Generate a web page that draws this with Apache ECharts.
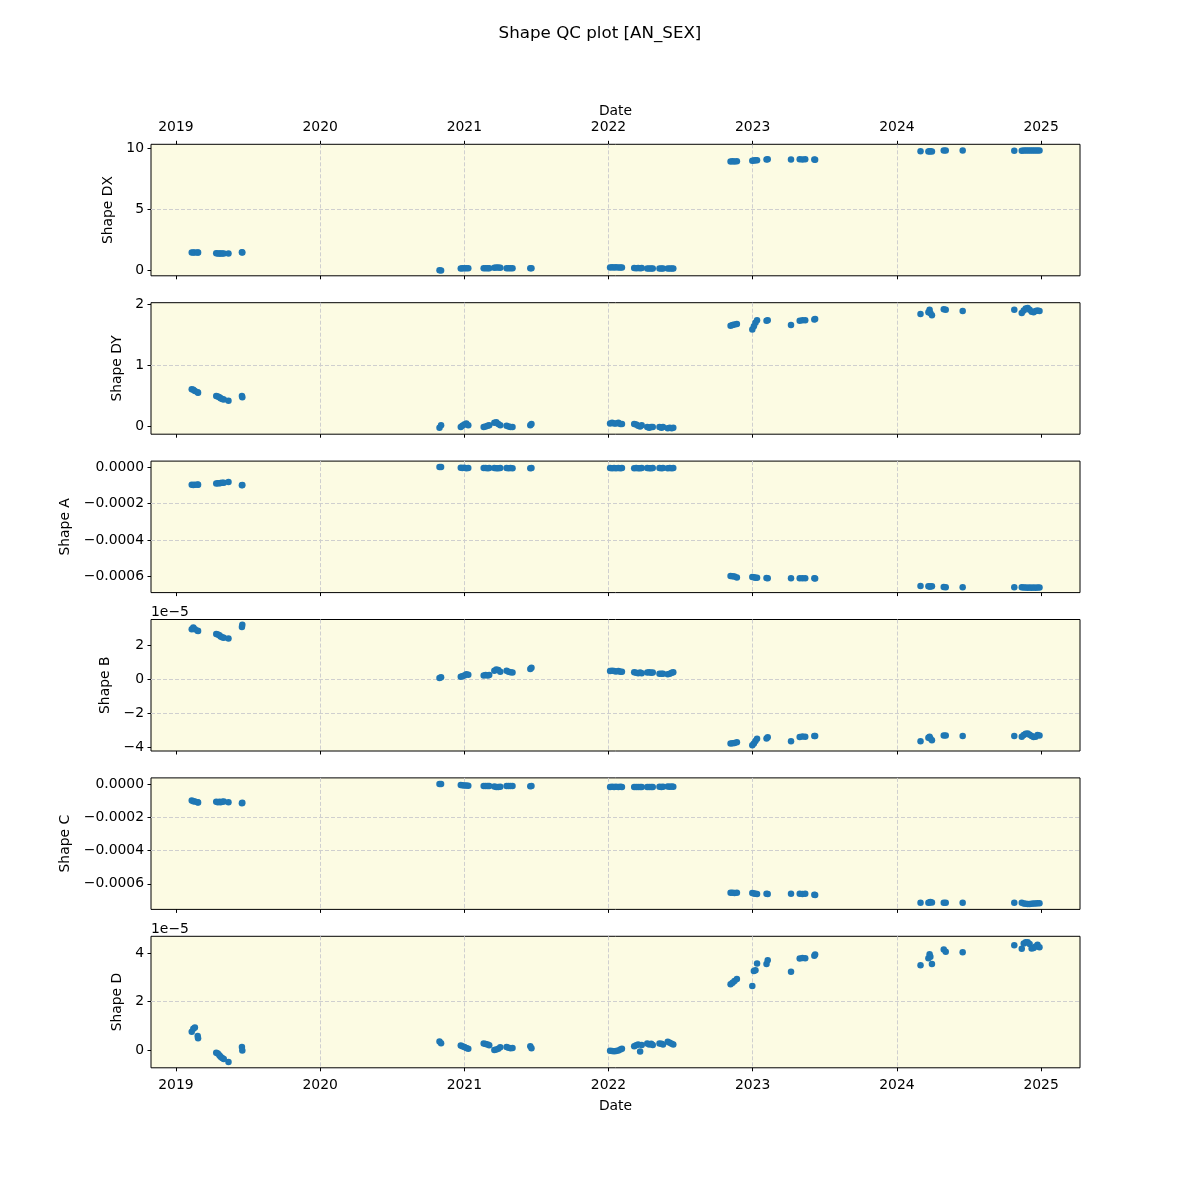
<!DOCTYPE html>
<html><head><meta charset="utf-8">
<script src="https://cdn.jsdelivr.net/npm/echarts@6/dist/echarts.min.js"></script>
<style>html,body{margin:0;padding:0;background:#fff}#c{width:1200px;height:1200px}</style>
</head><body><div id="c"></div>
<script>
// ---------------- data ----------------
const dates = [
 '2019-02-10','2019-02-14','2019-02-18','2019-02-25','2019-02-26','2019-04-13','2019-04-17','2019-04-21','2019-04-24','2019-04-28',
 '2019-05-02','2019-05-14','2019-06-17','2019-06-18','2020-10-30','2020-11-03','2020-12-23','2020-12-27','2021-01-01','2021-01-06',
 '2021-01-11','2021-02-19','2021-02-24','2021-03-01','2021-03-05','2021-03-18','2021-03-23','2021-03-28','2021-04-02','2021-04-18',
 '2021-04-23','2021-04-28','2021-05-03','2021-06-17','2021-06-20','2022-01-05','2022-01-10','2022-01-15','2022-01-20','2022-01-26',
 '2022-01-31','2022-02-04','2022-03-07','2022-03-12','2022-03-17','2022-03-22','2022-03-26','2022-04-09','2022-04-14','2022-04-19',
 '2022-04-23','2022-05-10','2022-05-15','2022-05-19','2022-05-31','2022-06-05','2022-06-10','2022-06-14','2022-11-06','2022-11-11',
 '2022-11-16','2022-11-22','2022-12-31','2023-01-04','2023-01-08','2023-01-12','2023-02-05','2023-02-08','2023-04-08','2023-04-30',
 '2023-05-07','2023-05-14','2023-06-06','2023-06-08','2024-03-01','2024-03-21','2024-03-24','2024-03-26','2024-03-30','2024-04-29',
 '2024-05-04','2024-06-16','2024-10-25','2024-11-13','2024-11-18','2024-11-23','2024-11-28','2024-12-03','2024-12-08','2024-12-13',
 '2024-12-18','2024-12-23','2024-12-28'
];
const shapeDX = [
 1.45,1.45,1.44,1.45,1.44,1.38,1.37,1.36,1.37,1.36,
 1.37,1.37,1.47,1.45,-0.02,-0.03,0.12,0.14,0.15,0.16,
 0.14,0.14,0.15,0.14,0.15,0.20,0.22,0.22,0.20,0.15,
 0.14,0.15,0.14,0.15,0.16,0.22,0.23,0.22,0.23,0.22,
 0.21,0.22,0.18,0.16,0.17,0.15,0.17,0.13,0.12,0.12,
 0.13,0.12,0.13,0.12,0.13,0.12,0.13,0.12,8.92,8.93,
 8.92,8.93,8.98,9.00,9.01,9.02,9.08,9.10,9.08,9.10,
 9.09,9.10,9.08,9.07,9.75,9.73,9.75,9.76,9.74,9.82,
 9.83,9.83,9.81,9.81,9.82,9.82,9.82,9.82,9.82,9.82,
 9.83,9.82,9.82
];
const shapeDY = [
 0.61,0.60,0.58,0.56,0.55,0.50,0.49,0.48,0.46,0.45,
 0.44,0.42,0.50,0.48,-0.02,0.02,-0.01,0.01,0.03,0.05,
 0.02,-0.01,0.00,0.01,0.02,0.06,0.07,0.04,0.02,0.01,
 0.00,-0.01,-0.01,0.02,0.04,0.05,0.06,0.05,0.05,0.06,
 0.04,0.04,0.04,0.03,0.01,0.00,0.02,-0.01,-0.02,-0.01,
 -0.01,-0.01,-0.02,-0.01,-0.03,-0.02,-0.03,-0.02,1.65,1.66,
 1.67,1.68,1.59,1.64,1.70,1.74,1.73,1.74,1.66,1.73,
 1.74,1.74,1.75,1.76,1.84,1.87,1.91,1.86,1.82,1.92,
 1.91,1.89,1.91,1.86,1.90,1.93,1.94,1.91,1.88,1.87,
 1.89,1.90,1.89
];
const shapeA = [
 -0.000097,-0.000098,-0.000096,-0.000095,-0.000097,-0.000090,-0.000089,-0.000088,-0.000087,-0.000086,
 -0.000086,-0.000082,-0.000100,-0.000098,0.000000,0.000001,-0.000004,-0.000005,-0.000004,-0.000006,
 -0.000005,-0.000005,-0.000005,-0.000006,-0.000005,-0.000005,-0.000006,-0.000006,-0.000005,-0.000005,
 -0.000006,-0.000005,-0.000006,-0.000006,-0.000005,-0.000005,-0.000006,-0.000005,-0.000006,-0.000005,
 -0.000006,-0.000005,-0.000006,-0.000005,-0.000006,-0.000006,-0.000005,-0.000005,-0.000006,-0.000006,
 -0.000005,-0.000005,-0.000006,-0.000005,-0.000006,-0.000005,-0.000006,-0.000005,-0.000597,-0.000598,
 -0.000600,-0.000605,-0.000602,-0.000604,-0.000606,-0.000607,-0.000608,-0.000609,-0.000610,-0.000609,
 -0.000610,-0.000609,-0.000610,-0.000611,-0.000652,-0.000653,-0.000655,-0.000654,-0.000653,-0.000657,
 -0.000658,-0.000658,-0.000658,-0.000658,-0.000660,-0.000660,-0.000661,-0.000660,-0.000661,-0.000660,
 -0.000661,-0.000660,-0.000660
];
// Shape B in units of 1e-5
const shapeB = [
 2.95,3.05,2.95,2.87,2.85,2.68,2.65,2.60,2.52,2.48,
 2.45,2.41,3.08,3.22,0.08,0.12,0.15,0.18,0.22,0.30,
 0.27,0.22,0.25,0.22,0.25,0.50,0.58,0.55,0.45,0.50,
 0.45,0.42,0.40,0.60,0.68,0.48,0.50,0.48,0.46,0.48,
 0.45,0.44,0.42,0.38,0.36,0.40,0.36,0.40,0.42,0.38,
 0.40,0.33,0.33,0.32,0.30,0.33,0.38,0.42,-3.80,-3.78,
 -3.76,-3.73,-3.90,-3.80,-3.65,-3.52,-3.50,-3.43,-3.67,-3.42,
 -3.39,-3.40,-3.35,-3.36,-3.67,-3.45,-3.40,-3.50,-3.60,-3.33,
 -3.32,-3.35,-3.35,-3.40,-3.30,-3.22,-3.20,-3.28,-3.35,-3.42,
 -3.40,-3.30,-3.33
];
const shapeC = [
 -0.000100,-0.000104,-0.000106,-0.000110,-0.000112,-0.000108,-0.000110,-0.000108,-0.000110,-0.000108,
 -0.000106,-0.000110,-0.000116,-0.000114,0.000000,-0.000001,-0.000006,-0.000008,-0.000009,-0.000010,
 -0.000011,-0.000012,-0.000013,-0.000012,-0.000013,-0.000016,-0.000018,-0.000019,-0.000017,-0.000012,
 -0.000013,-0.000012,-0.000013,-0.000014,-0.000013,-0.000018,-0.000017,-0.000018,-0.000017,-0.000018,
 -0.000017,-0.000018,-0.000019,-0.000018,-0.000019,-0.000018,-0.000019,-0.000019,-0.000018,-0.000019,
 -0.000018,-0.000017,-0.000018,-0.000017,-0.000016,-0.000017,-0.000016,-0.000017,-0.000654,-0.000654,
 -0.000655,-0.000654,-0.000656,-0.000658,-0.000660,-0.000662,-0.000660,-0.000661,-0.000660,-0.000660,
 -0.000661,-0.000660,-0.000666,-0.000667,-0.000714,-0.000714,-0.000712,-0.000710,-0.000712,-0.000714,
 -0.000714,-0.000714,-0.000714,-0.000714,-0.000718,-0.000720,-0.000722,-0.000721,-0.000720,-0.000719,
 -0.000718,-0.000717,-0.000717
];
// Shape D in units of 1e-5
const shapeD = [
 0.75,0.88,0.93,0.58,0.48,-0.12,-0.15,-0.22,-0.28,-0.33,
 -0.38,-0.50,0.12,-0.02,0.35,0.28,0.18,0.15,0.12,0.08,
 0.05,0.27,0.24,0.22,0.19,0.00,0.02,0.05,0.11,0.12,
 0.09,0.07,0.08,0.15,0.07,-0.03,-0.05,-0.06,-0.04,-0.02,
 0.02,0.05,0.15,0.19,0.22,-0.07,0.20,0.27,0.22,0.25,
 0.20,0.27,0.25,0.22,0.34,0.30,0.25,0.22,2.72,2.78,
 2.85,2.93,2.64,3.26,3.30,3.57,3.55,3.71,3.23,3.78,
 3.80,3.79,3.90,3.95,3.50,3.79,3.96,3.85,3.55,4.15,
 4.06,4.04,4.33,4.18,4.40,4.45,4.45,4.38,4.20,4.22,
 4.28,4.35,4.25
];
const yearTicks = [2019, 2020, 2021, 2022, 2023, 2024, 2025];
const panelNames = ['Shape DX', 'Shape DY', 'Shape A', 'Shape B', 'Shape C', 'Shape D'];
const ticksDX = [0, 5, 10];
const ticksDY = [0, 1, 2];
const ticksA = [0, -0.0002, -0.0004, -0.0006];
const ticksB = [-4, -2, 0, 2];
const ticksC = [0, -0.0002, -0.0004, -0.0006];
const ticksD = [0, 2, 4];
const titleText = 'Shape QC plot [AN_SEX]';
const xName = 'Date';
const offsetText = '1e\u22125';

// ---------------- build ----------------
function toYear(s) {
  const [y, m, d] = s.split('-').map(Number);
  const t = Date.UTC(y, m - 1, d), t0 = Date.UTC(y, 0, 1), t1 = Date.UTC(y + 1, 0, 1);
  return y + (t - t0) / (t1 - t0);
}
const xs = dates.map(toYear);
const FONT = 'DejaVu Sans';
const FS = 13.9;
const BLUE = '#1f77b4';
const GRIDC = '#cfcfcf';

const seriesVals = [shapeDX, shapeDY, shapeA, shapeB, shapeC, shapeD];
const tickVals = [ticksDX, ticksDY, ticksA, ticksB, ticksC, ticksD];
const yExt = [[-0.47, 10.33], [-0.127, 2.027], [-0.000688, 0.000033], [-4.24, 3.53], [-0.000754, 0.000036], [-0.74, 4.70]];
const yStep = [5, 1, 0.0002, 2, 0.0002, 2];
const nameGaps = [32, 24, 72, 37, 72, 24];
const tops = [144.3, 302.7, 461.1, 619.5, 777.9, 936.3];
const H = 131.5;
const X0 = 2018.827, X1 = 2025.270;

const fmtInt = v => (v < 0 ? '\u2212' : '') + Math.abs(Math.round(v));
const fmt4 = v => (v < -1e-12 ? '\u2212' : '') + Math.abs(v).toFixed(4);
const fmts = [fmtInt, fmtInt, fmt4, fmtInt, fmt4, fmtInt];

const grid = tops.map(t => ({
  left: 151, width: 929, top: t, height: H, show: true,
  backgroundColor: '#fcfbe3', borderColor: '#000', borderWidth: 1, containLabel: false
}));

const splitLine = { show: true, showMinLine: false, showMaxLine: false, lineStyle: { color: GRIDC, type: [4, 2], width: 1 } };
const xAxis = tops.map((t, i) => ({
  type: 'value', gridIndex: i, position: 'bottom', min: X0, max: X1,
  minInterval: 1, maxInterval: 1,
  axisLine: { show: false, onZero: false },
  axisTick: { show: true, length: 3.5, customValues: yearTicks, lineStyle: { color: '#000' } },
  axisLabel: { show: i === 5, customValues: yearTicks, margin: 11, color: '#000', fontFamily: FONT, fontSize: FS, formatter: v => String(Math.round(v)) },
  splitLine: splitLine,
  name: i === 5 ? xName : '', nameLocation: 'middle', nameGap: 32,
  nameTextStyle: { color: '#000', fontFamily: FONT, fontSize: FS }
}));
xAxis.push({
  type: 'value', gridIndex: 0, position: 'top', min: X0, max: X1,
  minInterval: 1, maxInterval: 1,
  axisLine: { show: false, onZero: false },
  axisTick: { show: true, length: 3.5, customValues: yearTicks, lineStyle: { color: '#000' } },
  axisLabel: { show: true, customValues: yearTicks, margin: 9.5, color: '#000', fontFamily: FONT, fontSize: FS, formatter: v => String(Math.round(v)) },
  splitLine: { show: false },
  name: xName, nameLocation: 'middle', nameGap: 26,
  nameTextStyle: { color: '#000', fontFamily: FONT, fontSize: FS }
});

const yAxis = tops.map((t, i) => ({
  type: 'value', gridIndex: i, min: yExt[i][0], max: yExt[i][1],
  minInterval: yStep[i], maxInterval: yStep[i],
  axisLine: { show: false, onZero: false },
  axisTick: { show: true, length: 3.5, customValues: tickVals[i], lineStyle: { color: '#000' } },
  axisLabel: { show: true, customValues: tickVals[i], margin: 7, color: '#000', fontFamily: FONT, fontSize: FS, formatter: fmts[i] },
  splitLine: splitLine,
  name: panelNames[i], nameLocation: 'middle', nameGap: nameGaps[i], nameRotate: 90,
  nameTextStyle: { color: '#000', fontFamily: FONT, fontSize: FS }
}));

const series = seriesVals.map((vals, i) => ({
  type: 'scatter', xAxisIndex: i, yAxisIndex: i,
  data: vals.map((v, k) => [xs[k], v]),
  symbol: 'circle', symbolSize: 6.5,
  itemStyle: { color: BLUE, opacity: 1 },
  emphasis: { disabled: true }, silent: true
}));

const chart = echarts.init(document.getElementById('c'), null, { renderer: 'canvas' });
chart.setOption({
  animation: false,
  backgroundColor: '#ffffff',
  title: { text: titleText, left: 'center', top: 20, textStyle: { fontFamily: FONT, fontSize: 16.7, fontWeight: 'normal', color: '#000' } },
  grid, xAxis, yAxis, series,
  graphic: [
    { type: 'text', left: 151, top: tops[3] - 14, style: { text: offsetText, fontFamily: FONT, fontSize: FS, fill: '#000' } },
    { type: 'text', left: 151, top: tops[5] - 14, style: { text: offsetText, fontFamily: FONT, fontSize: FS, fill: '#000' } }
  ]
});
</script>
</body></html>
